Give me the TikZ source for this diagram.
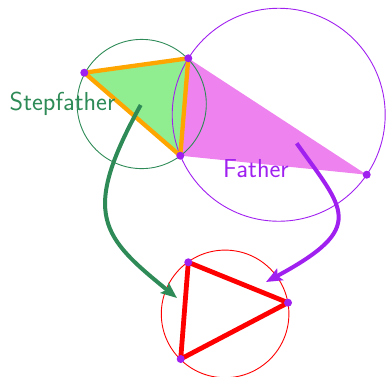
\documentclass[tikz,border=0pt]{standalone}
\usepackage{fontspec}
\usetikzlibrary{arrows.meta}
\definecolor{sgreen}{HTML}{2E8B57}
\definecolor{pplc}{HTML}{A020F0}
\definecolor{vfill}{HTML}{EE82EE}
\definecolor{lgfill}{HTML}{90EE90}
\definecolor{orng}{HTML}{FFA500}
\tikzset{
  vdot/.style={circle,fill=pplc,inner sep=0pt,minimum size=8pt},
  thincirc/.style={line width=0.9pt},
  edgeor/.style={draw=orng,line width=4.3pt,line join=round},
  edgered/.style={draw=red,line width=4.8pt,line join=round},
  bigarrow/.style={line width=4pt,-{Stealth[length=16pt,width=13pt,inset=3pt]}},
  lbl/.style={font=\sffamily\fontsize{26}{26}\selectfont,inner sep=0pt,anchor=base west}
}
\begin{document}
\begin{tikzpicture}[x=1pt,y=-1pt]
\useasboundingbox (0,0) rectangle (386,376);
% vertices
\coordinate (A) at (84.3,72.7);
\coordinate (B) at (188.3,58.3);
\coordinate (C) at (180.3,155.7);
\coordinate (D) at (366.7,174.7);
\coordinate (E) at (188.3,262.3);
\coordinate (F) at (288,302.7);
\coordinate (G) at (180.7,359);
% circle centres
\coordinate (cg) at (141.7,104);
\coordinate (cp) at (278.7,114.75);
\coordinate (cr) at (225.1,313.9);
% arrow ends
\coordinate (gs) at (140.7,105);
\coordinate (gt) at (177,298);
\coordinate (ps) at (296.7,143.3);
\coordinate (pt) at (266,282);
% fills
\fill[vfill] (B) -- (C) -- (D) -- cycle;
\fill[lgfill] (A) -- (B) -- (C) -- cycle;
% circles
\draw[thincirc,sgreen] (cg) circle[radius=64.6];
\draw[thincirc,pplc] (cp) circle[radius=106.5];
\draw[thincirc,red] (cr) circle[radius=63.8];
% outlines
\draw[edgeor] (A) -- (B) -- (C) -- cycle;
\draw[edgered] (E) -- (F) -- (G) -- cycle;
% labels
\node[lbl,text=sgreen] (stepf) at (9.5,110) {Stepfather};
\node[lbl,text=pplc] (fath) at (223,177.7) {Father};
% arrows
\draw[bigarrow,sgreen] (gs) .. controls (80,215) and (102,237) .. (gt);
\draw[bigarrow,pplc] (ps) .. controls (344,210) and (368,227) .. (pt);
% dots
\foreach \p in {A,B,C,D,E,F,G} \node[vdot] at (\p) {};
\end{tikzpicture}
\end{document}
